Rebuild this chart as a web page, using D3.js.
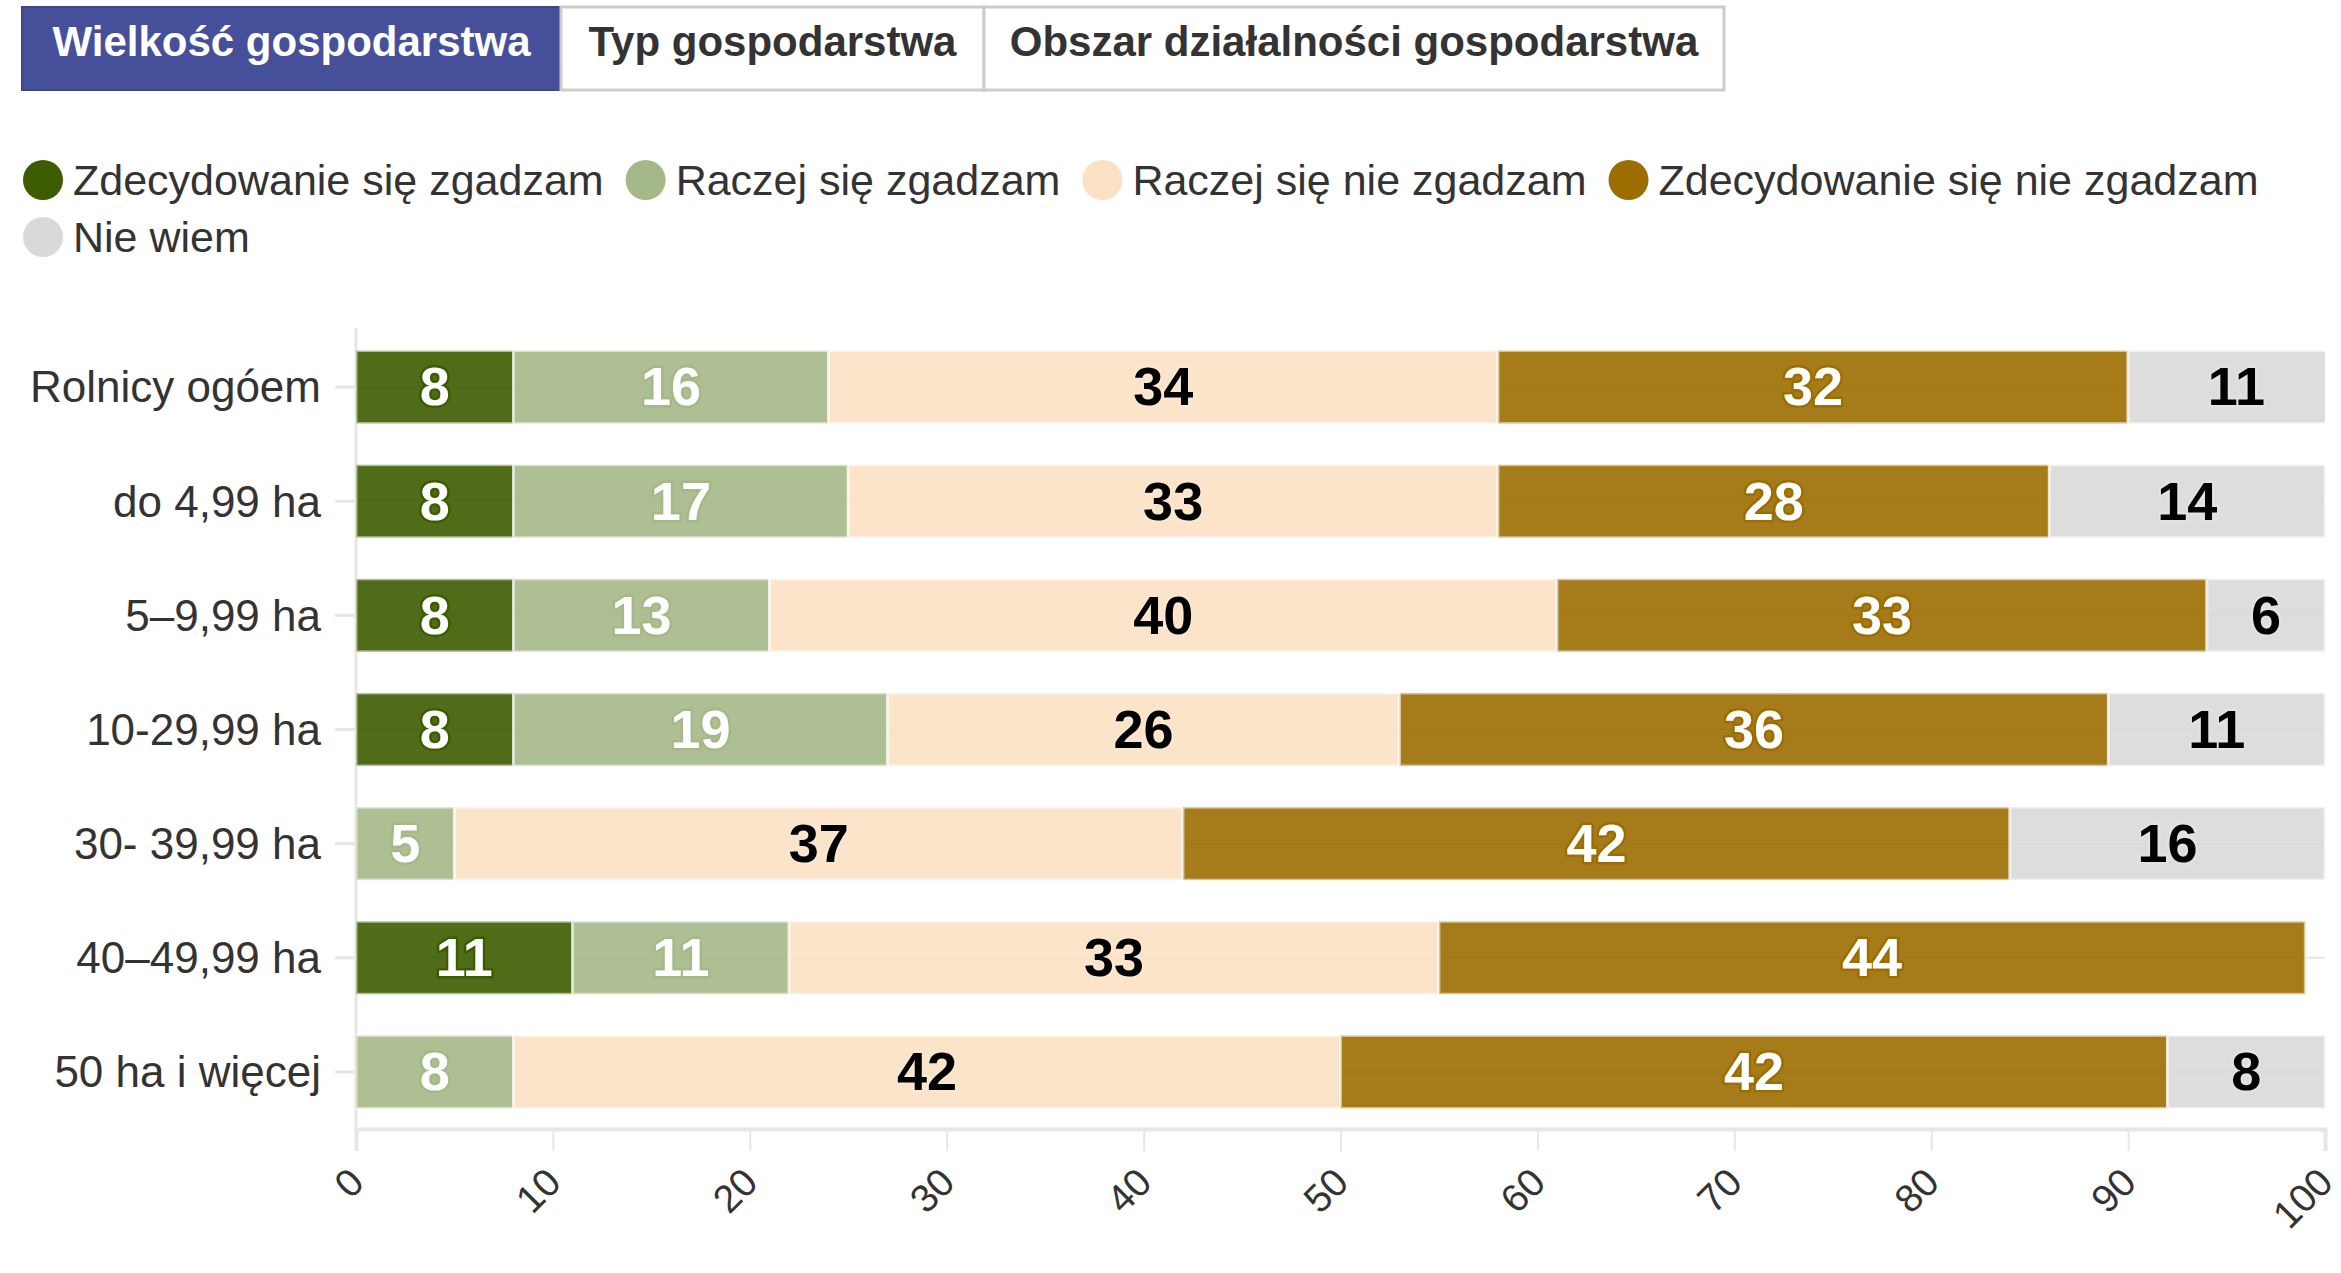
<!DOCTYPE html>
<html lang="pl">
<head>
<meta charset="utf-8">
<title>Wielkość gospodarstwa</title>
<script src="https://cdn.jsdelivr.net/npm/d3@7"></script>
<style>
  html, body { margin: 0; padding: 0; background: #fff; }
  svg { display: block; font-family: "Liberation Sans", Arial, sans-serif; }
</style>
</head>
<body>
<svg id="chart" width="2341" height="1273"></svg>
<script>
// Tabs above the chart
const tabLabels = ["Wielkość gospodarstwa", "Typ gospodarstwa", "Obszar działalności gospodarstwa"];

// Row categories (farm size groups)
const categories = [
  "Rolnicy ogóem",
  "do 4,99 ha",
  "5–9,99 ha",
  "10-29,99 ha",
  "30- 39,99 ha",
  "40–49,99 ha",
  "50 ha i więcej"
];

// Answer series, in stacking order (percent of respondents; null = no share shown)
const seriesNames = [
  "Zdecydowanie się zgadzam",
  "Raczej się zgadzam",
  "Raczej się nie zgadzam",
  "Zdecydowanie się nie zgadzam",
  "Nie wiem"
];
const stronglyAgree    = [8, 8, 8, 8, null, 11, null];
const ratherAgree      = [16, 17, 13, 19, 5, 11, 8];
const ratherDisagree   = [34, 33, 40, 26, 37, 33, 42];
const stronglyDisagree = [32, 28, 33, 36, 42, 44, 42];
const dontKnow         = [11, 14, 6, 11, 16, null, 8];

// Axis ticks
const xTicks = [0, 10, 20, 30, 40, 50, 60, 70, 80, 90, 100];

const seriesValues = [stronglyAgree, ratherAgree, ratherDisagree, stronglyDisagree, dontKnow];
const seriesColors = ["#3d5c00", "#a5b887", "#fbe1c4", "#9c6d00", "#d9d9d9"];
const labelColors  = ["#ffffff", "#ffffff", "#000000", "#ffffff", "#000000"];
const haloColors   = ["#3d5c00", "#a5b887", "#fbe6cf", "#9c6d00", "#e2e2e2"];

const svg = d3.select("#chart");
const FONT = '"Liberation Sans", Arial, sans-serif';

// ---- Tabs ----
const tabBox = { x: 22, y: 7, h: 83, widths: [539, 423, 740] };
let tx = tabBox.x;
const tabs = svg.append("g").attr("class", "tabs");
tabLabels.forEach((t, i) => {
  const w = tabBox.widths[i];
  tabs.append("rect")
    .attr("x", tx).attr("y", tabBox.y)
    .attr("width", w).attr("height", tabBox.h)
    .attr("fill", i === 0 ? "#46509a" : "#ffffff")
    .attr("stroke", i === 0 ? "#3e4788" : "#cccccc")
    .attr("stroke-width", i === 0 ? 2 : 3);
  tabs.append("text")
    .attr("x", tx + w / 2).attr("y", tabBox.y + tabBox.h / 2 - 7)
    .attr("text-anchor", "middle")
    .attr("dominant-baseline", "central")
    .attr("font-size", 42).attr("font-weight", "bold")
    .attr("fill", i === 0 ? "#ffffff" : "#333333")
    .text(t);
  tx += w;
});

// ---- Legend ----
const legend = svg.append("g").attr("class", "legend");
const legendStart = 23, legendRight = 2330, rowH = 57, firstRowY = 180;
let lx = legendStart, ly = firstRowY;
seriesNames.forEach((name, i) => {
  const item = legend.append("g");
  item.append("circle").attr("cx", 20).attr("cy", 0).attr("r", 20).attr("fill", seriesColors[i]);
  const txt = item.append("text")
    .attr("x", 50).attr("y", 0)
    .attr("dominant-baseline", "central")
    .attr("font-size", 43).attr("fill", "#333333")
    .text(name);
  const w = 50 + txt.node().getComputedTextLength();
  if (lx + w > legendRight && lx > legendStart) { lx = legendStart; ly += rowH; }
  item.attr("transform", `translate(${lx},${ly})`);
  lx += w + 22;
});

// ---- Plot ----
const plot = { left: 356, right: 2325, top: 330, bottom: 1129 };

const x = d3.scaleLinear().domain([0, 100]).range([plot.left, plot.right]);
const y = d3.scaleBand().domain(categories).range([plot.top, plot.bottom])
  .paddingInner(0.36).paddingOuter(0.18);

// Stacked rows built from the series arrays
const rows = categories.map((c, ci) => {
  let acc = 0;
  const segs = [];
  seriesValues.forEach((vals, si) => {
    const v = vals[ci];
    if (v == null) return;
    segs.push({ cat: c, series: si, value: v, x0: acc, x1: acc + v });
    acc += v;
  });
  return segs;
}).flat();

svg.append("defs").append("clipPath").attr("id", "plotClip")
  .append("rect")
  .attr("x", plot.left).attr("y", plot.top)
  .attr("width", plot.right - plot.left).attr("height", plot.bottom - plot.top);

// Faint horizontal gridlines at each row
svg.append("g").selectAll("line").data(categories).join("line")
  .attr("x1", plot.left).attr("x2", plot.right)
  .attr("y1", d => y(d) + y.bandwidth() / 2).attr("y2", d => y(d) + y.bandwidth() / 2)
  .attr("stroke", "#e6e6e6").attr("stroke-width", 2);

// Y axis line and row ticks
const gy = svg.append("g").attr("transform", `translate(${plot.left},0)`)
  .call(d3.axisLeft(y).tickSize(21).tickPadding(14));
gy.select(".domain").remove();
gy.selectAll(".tick line").attr("stroke", "#e6e6e6").attr("stroke-width", 3);
gy.selectAll(".tick text")
  .attr("font-family", FONT).attr("font-size", 44).attr("fill", "#333333")
  .attr("dy", "0.35em");
svg.append("line")
  .attr("x1", plot.left).attr("x2", plot.left)
  .attr("y1", plot.top - 2).attr("y2", plot.bottom)
  .attr("stroke", "#e6e6e6").attr("stroke-width", 3);

// Bars
svg.append("g").attr("clip-path", "url(#plotClip)")
  .selectAll("rect").data(rows).join("rect")
  .attr("x", d => x(d.x0))
  .attr("y", d => y(d.cat))
  .attr("width", d => x(d.x1) - x(d.x0))
  .attr("height", y.bandwidth())
  .attr("fill", d => seriesColors[d.series])
  .attr("fill-opacity", 0.9)
  .attr("stroke", "#ffffff")
  .attr("stroke-opacity", 0.55)
  .attr("stroke-width", 3);

// X axis
const gx = svg.append("g").attr("transform", `translate(0,${plot.bottom})`)
  .call(d3.axisBottom(x).tickValues(xTicks).tickSize(22).tickFormat(d3.format("d")));
gx.select(".domain").attr("stroke", "#e6e6e6").attr("stroke-width", 4);
gx.selectAll(".tick line").attr("stroke", "#e6e6e6").attr("stroke-width", 2);
gx.selectAll(".tick text")
  .attr("font-family", FONT).attr("font-size", 39).attr("fill", "#333333")
  .attr("text-anchor", "end")
  .attr("y", 0).attr("dy", "0.35em")
  .attr("transform", "translate(0,46) rotate(-45)");

// Value labels
svg.append("g").selectAll("text").data(rows).join("text")
  .attr("x", d => x((d.x0 + d.x1) / 2))
  .attr("y", d => y(d.cat) + y.bandwidth() / 2)
  .attr("text-anchor", "middle")
  .attr("dy", "0.34em")
  .attr("font-size", 54).attr("font-weight", "bold")
  .attr("fill", d => labelColors[d.series])
  .attr("stroke", d => haloColors[d.series])
  .attr("stroke-width", 5)
  .attr("stroke-linejoin", "round")
  .attr("paint-order", "stroke")
  .text(d => d.value);
</script>
</body>
</html>
